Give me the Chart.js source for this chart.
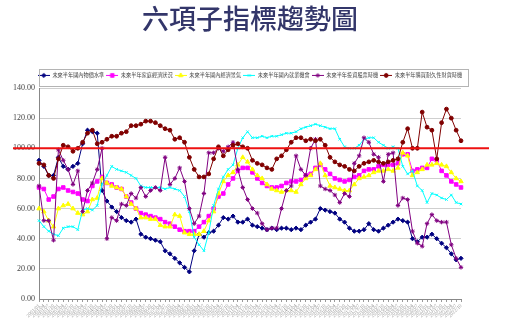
<!DOCTYPE html>
<html>
<head>
<meta charset="utf-8">
<script src="https://cdn.jsdelivr.net/npm/chart.js"></script>
<style>
  html, body { margin: 0; padding: 0; background: #fff; }
  #wrap { width: 512px; height: 330px; }
</style>
</head>
<body>
<div id="wrap"><canvas id="cci" width="512" height="330"></canvas></div>
<script>
// quarterly categories
var quarters = [
  '2001/01','2001/04','2001/07','2001/10','2002/01','2002/04','2002/07','2002/10',
  '2003/01','2003/04','2003/07','2003/10','2004/01','2004/04','2004/07','2004/10',
  '2005/01','2005/04','2005/07','2005/10','2006/01','2006/04','2006/07','2006/10',
  '2007/01','2007/04','2007/07','2007/10','2008/01','2008/04','2008/07','2008/10',
  '2009/01','2009/04','2009/07','2009/10','2010/01','2010/04','2010/07','2010/10',
  '2011/01','2011/04','2011/07','2011/10','2012/01','2012/04','2012/07','2012/10',
  '2013/01','2013/04','2013/07','2013/10','2014/01','2014/04','2014/07','2014/10',
  '2015/01','2015/04','2015/07','2015/10','2016/01','2016/04','2016/07','2016/10',
  '2017/01','2017/04','2017/07','2017/10','2018/01','2018/04','2018/07','2018/10',
  '2019/01','2019/04','2019/07','2019/10','2020/01','2020/04','2020/07','2020/10',
  '2021/01','2021/04','2021/07','2021/10','2022/01','2022/04','2022/07','2022/10'
];

var seriesNames = [
  '未來半年國內物價水準',
  '未來半年家庭經濟狀況',
  '未來半年國內經濟景氣',
  '未來半年國內就業機會',
  '未來半年投資股票時機',
  '未來半年購買耐久性財貨時機'
];

var priceLevel = [92,88,82,82,94,88,86,88,90,103, 112,111,110,72,65,61,58,54,52,51,
  53,43,41,40,39,38,32,30,27,24, 21,18,32,43,41,44,45,49,54,53,
  55,51,51,53,49,48,47,46,47,46, 47,47,46,47,46,49,51,53,60,59,
  58,57,53,51,47,45,45,46,50,46, 45,47,49,51,53,52,51,40,38,41,
  41,43,40,37,34,30,26,27];

var familyEconomy = [74,73,66,68,73,74,72,71,70,66, 65,75,78,81,77,76,74,73,68,64,
  60,57,56,55,54,53,51,50,48,46, 45,45,45,48,51,55,60,68,70,76,
  80,85,87,87,84,80,77,75,74,74, 75,77,78,78,79,82,83,87,89,86,
  83,80,79,78,79,81,82,85,86,86, 88,89,89,89,90,96,96,85,86,87,
  87,93,92,85,82,78,76,74];

var domesticEconomy = [60,58,52,48,60,62,63,60,57,56, 58,66,67,80,77,75,74,73,68,63,
  60,54,54,53,53,49,48,48,56,55, 44,43,43,43,45,52,58,70,78,82,
  84,89,94,91,86,82,80,76,73,72, 71,72,72,71,76,80,82,86,90,82,
  75,74,73,72,72,76,80,81,82,84, 85,85,86,85,87,97,95,82,84,86,
  89,89,90,89,88,84,80,78];

var employment = [52,48,45,43,42,47,48,48,46,59, 60,59,62,76,82,88,86,85,84,82,
  80,75,74,74,74,74,73,74,73,72, 68,58,41,36,32,44,62,73,81,86,
  89,100,107,111,107,107,108,107,108,108, 109,110,110,111,113,114,115,116,115,114,
  113,113,106,101,100,100,102,106,107,107, 104,102,100,101,100,88,83,85,75,72,
  64,70,69,67,66,69,64,63];

var stockTiming = [75,52,52,39,99,92,86,76,85,58, 72,77,86,100,40,54,52,63,62,70,
  67,74,68,72,74,72,94,76,80,87, 78,60,50,55,70,97,97,100,98,101,
  104,86,74,66,60,57,50,46,47,47, 60,72,75,95,86,82,100,106,75,73,
  72,69,64,70,68,90,95,107,104,96, 94,78,96,97,62,67,66,45,37,35,
  50,56,52,51,51,36,27,21];

var durableGoods = [90,89,82,80,93,102,101,98,100,104, 110,112,103,104,106,108,108,110,111,115,
  115,116,118,118,117,115,113,112,106,107, 104,94,86,81,81,83,93,101,95,99,
  102,103,101,100,92,90,89,87,86,93, 95,99,104,107,107,105,106,105,106,102,
  94,91,89,88,86,85,88,90,91,92, 91,90,91,92,93,104,113,100,100,124,
  114,112,93,117,126,120,112,105];

var yTicks = [0, 20, 40, 60, 80, 100, 120, 140];
var refLine = 100;

var seriesValues = [priceLevel, familyEconomy, domesticEconomy, employment, stockTiming, durableGoods];
var seriesColors = ['#000080', '#ff00ff', '#ffff00', '#00ffff', '#800080', '#800000'];
var seriesMarkers = ['rectRot', 'rect', 'triangle', 'crossRot', 'star', 'circle'];
var markerSizes = [2.1, 2.5, 2.5, 1.8, 2.2, 1.9];

function legendIcon(color, style, r) {
  var c = document.createElement('canvas');
  c.width = 12; c.height = 7;
  var g = c.getContext('2d');
  g.strokeStyle = color; g.fillStyle = color; g.lineWidth = 1;
  g.beginPath(); g.moveTo(0, 3.5); g.lineTo(12, 3.5); g.stroke();
  Chart.helpers.drawPoint(g, { pointStyle: style, radius: r, rotation: 0, borderWidth: 1 }, 6, 3.5);
  return c;
}

var icons = seriesColors.map(function(col, i) { return legendIcon(col, seriesMarkers[i], markerSizes[i]); });

var datasets = seriesValues.map(function(vals, i) {
  return {
    label: seriesNames[i],
    data: vals,
    borderColor: seriesColors[i],
    backgroundColor: seriesColors[i],
    borderWidth: 1,
    pointStyle: seriesMarkers[i],
    pointRadius: markerSizes[i],
    pointBorderWidth: 1,
    pointBackgroundColor: seriesColors[i],
    pointBorderColor: seriesColors[i],
    tension: 0,
    order: 5 - i
  };
});

var redLinePlugin = {
  id: 'redLine',
  afterDatasetsDraw: function(chart) {
    var a = chart.chartArea, ctx = chart.ctx;
    var y = chart.scales.y.getPixelForValue(refLine);
    ctx.save();
    ctx.strokeStyle = '#ee1111';
    ctx.lineWidth = 2;
    ctx.beginPath();
    ctx.moveTo(a.left - 26, y);
    ctx.lineTo(a.right + 28, y);
    ctx.stroke();
    ctx.restore();
  }
};

var legendBoxPlugin = {
  id: 'legendBox',
  afterDraw: function(chart) {
    var a = chart.chartArea, ctx = chart.ctx, lg = chart.legend;
    var top = Math.round(lg.top) - 1.5;
    ctx.save();
    ctx.strokeStyle = '#b4b4b4';
    ctx.lineWidth = 1;
    ctx.strokeRect(a.left + 0.5, top, a.right + 7 - a.left, a.top - 1.5 - top);
    ctx.restore();
  }
};

new Chart(document.getElementById('cci'), {
  type: 'line',
  data: { labels: quarters, datasets: datasets },
  plugins: [redLinePlugin, legendBoxPlugin],
  options: {
    responsive: false,
    animation: false,
    devicePixelRatio: 1,
    layout: { padding: { left: 0, right: 12, top: 0, bottom: 0 } },
    plugins: {
      title: {
        display: true,
        text: '六項子指標趨勢圖',
        color: '#33366a',
        font: { size: 27, family: 'Noto Sans CJK TC', weight: '500' },
        padding: { top: 3, bottom: 35.4 }
      },
      legend: {
        display: true,
        position: 'top',
        labels: {
          usePointStyle: true,
          pointStyleWidth: 12,
          padding: 2,
          color: '#444',
          font: { size: 5.2, family: 'Noto Sans CJK TC' },
          sort: function(a, b) { return a.datasetIndex - b.datasetIndex; },
          generateLabels: function(chart) {
            var items = Chart.defaults.plugins.legend.labels.generateLabels(chart);
            items.forEach(function(it) { it.pointStyle = icons[it.datasetIndex]; });
            return items;
          }
        }
      },
      tooltip: { enabled: false }
    },
    scales: {
      x: {
        offset: false,
        grid: { display: true, drawOnChartArea: false, tickLength: 3, color: '#9a9a9a' },
        border: { display: true, color: '#888' },
        ticks: {
          autoSkip: false, minRotation: 45, maxRotation: 45, padding: 1,
          color: '#9a9a9a', font: { size: 5, family: 'Liberation Serif' }
        },
        afterFit: function(s) { s.height = 31; }
      },
      y: {
        min: 0, max: 140,
        afterBuildTicks: function(s) { s.ticks = yTicks.map(function(v) { return { value: v }; }); },
        grid: { color: '#cfcfcf', drawTicks: false },
        border: { display: true, color: '#888' },
        ticks: {
          padding: 4, color: '#444', font: { size: 8, family: 'Liberation Serif' },
          callback: function(v) { return Number(v).toFixed(2); }
        },
        afterFit: function(s) { s.width = 39; }
      },
      yR: {
        type: 'linear', position: 'right', display: true,
        grid: { display: false }, border: { display: false },
        ticks: { display: false },
        afterFit: function(s) { s.width = 39; }
      }
    }
  }
});
</script>
</body>
</html>
